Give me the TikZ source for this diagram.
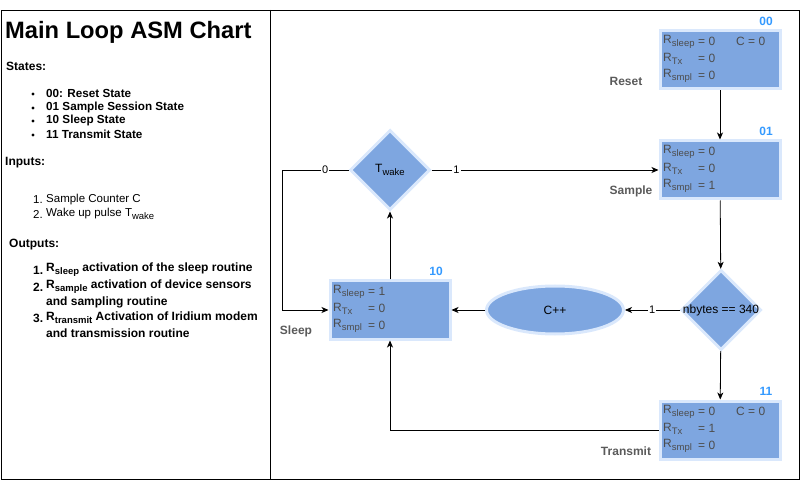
\documentclass[tikz,border=0pt]{standalone}
\usepackage{fontspec}
\setmainfont{Liberation Sans}
\usetikzlibrary{shapes.geometric,arrows.meta}
\definecolor{boxfill}{HTML}{7EA6E0}
\definecolor{boxline}{HTML}{DAE8FC}
\definecolor{codeblue}{HTML}{3399FF}
\definecolor{regtext}{HTML}{4D4D4D}
\definecolor{sidetext}{HTML}{5A5A5A}
\newcommand{\lowtxt}[1]{\raisebox{-0.27em}{\fontsize{9.5}{10}\selectfont #1}}

\tikzset{
  statebox/.style={rectangle, draw=boxline, fill=boxfill, line width=3pt,
    minimum width=120pt, minimum height=58pt, inner sep=0pt},
  decide/.style={diamond, draw=boxline, fill=boxfill, line width=3pt,
    minimum width=80pt, minimum height=80pt, inner sep=0pt},
  counter/.style={ellipse, draw=boxline, fill=boxfill, line width=3pt,
    minimum width=137pt, minimum height=48pt, inner sep=0pt},
  arr/.style={-{Stealth[length=7pt,width=6pt,inset=2pt]}, line width=0.8pt},
  elab/.style={fill=white, inner sep=1pt, font=\fontsize{11}{13}\selectfont},
  code/.style={font=\fontsize{12}{14}\selectfont\bfseries, text=codeblue},
  side/.style={font=\fontsize{12}{14}\selectfont\bfseries, text=sidetext},
  reg/.style={anchor=west, inner sep=0pt, font=\fontsize{12}{14}\selectfont, text=regtext},
  txt/.style={anchor=west, inner sep=0pt, font=\fontsize{11.5}{14}\selectfont},
  btxt/.style={txt, font=\fontsize{12}{14}\selectfont\bfseries}
}

\begin{document}
\begin{tikzpicture}[x=1pt,y=-1pt]
\useasboundingbox (0,0) rectangle (801,481);
% frame
\draw[line width=0.8pt] (1,10) rectangle (799,479);
\draw[line width=0.8pt] (270,10) -- (270,479);

% left panel
\node[txt, font=\fontsize{23.7}{28}\selectfont\bfseries] (title) at (5,32) {Main Loop ASM Chart};
\node[btxt] (states) at (6,66) {States:};
\foreach \y/\t [count=\i] in {93/00: Reset State, 107/01 Sample Session State,
                              120/10 Sleep State, 134/11 Transmit State} {
  \fill (33,\y+1) circle (1.7);
  \node[btxt, font=\fontsize{11.7}{14}\selectfont\bfseries] (st\i) at (46,\y) {\t};
}
\node[btxt] (inputs) at (5,163) {Inputs:};
\node[txt] (in1n) at (33,200) {1.};
\node[txt] (in1) at (46,200) {Sample Counter C};
\node[txt] (in2n) at (33,214) {2.};
\node[txt] (in2) at (46,214) {Wake up pulse T\lowtxt{wake}};
\node[btxt] (outputs) at (9,245) {Outputs:};
\node[btxt] (out1n) at (33,270) {1.};
\node[btxt] (out1) at (46,270) {R\lowtxt{sleep} activation of the sleep routine};
\node[btxt] (out2n) at (33,287) {2.};
\node[btxt] (out2) at (46,287) {R\lowtxt{sample} activation of device sensors};
\node[btxt] (out2b) at (46,302) {and sampling routine};
\node[btxt] (out3n) at (33,318) {3.};
\node[btxt] (out3) at (46,318) {R\lowtxt{transmit} Activation of Iridium modem};
\node[btxt] (out3b) at (46,333) {and transmission routine};

% states
\node[statebox] (s00) at (720,60) {};
\node[statebox] (s01) at (720,170) {};
\node[statebox] (s10) at (390,310) {};
\node[statebox] (s11) at (720,430) {};
\node[decide] (qwake) at (390,170) {};
\node[txt, anchor=center, font=\fontsize{12}{14}\selectfont] (twake) at (qwake) {T\lowtxt{wake}};
\node[decide] (qbytes) at (721,310) {};
\node[txt, anchor=center, font=\fontsize{12}{14}\selectfont] (nbytes) at (qbytes) {nbytes == 340};
\node[counter, font=\fontsize{12}{14}\selectfont] (inc) at (555,310) {C++};

% register values
\foreach \n/\bx/\by/\a/\b/\c in {00/720/60/0/0/0, 01/720/170/0/0/1,
                                 10/390/310/1/0/0, 11/720/430/0/1/0} {
  \node[reg] (r\n a) at (\bx-57,\by-18) {R\lowtxt{sleep}};
  \node[reg] (r\n b) at (\bx-57,\by-1) {R\lowtxt{Tx}};
  \node[reg] (r\n c) at (\bx-57,\by+16) {R\lowtxt{smpl}};
  \node[reg] (v\n a) at (\bx-22,\by-19) {= \a};
  \node[reg] (v\n b) at (\bx-22,\by-2) {= \b};
  \node[reg] (v\n c) at (\bx-22,\by+15) {= \c};
}
\node[reg] (c00) at (736,41) {C = 0};
\node[reg] (c11) at (736,411) {C = 0};

% state codes and names
\node[code] (k00) at (766,21) {00};
\node[code] (k01) at (766,131) {01};
\node[code] (k10) at (436,271) {10};
\node[code] (k11) at (766,391) {11};
\node[side] (nreset) at (626,81) {Reset};
\node[side] (nsample) at (631,191) {Sample};
\node[side] (nsleep) at (296,331) {Sleep};
\node[side] (ntransmit) at (626,451) {Transmit};

% connectors
\coordinate (loopx) at (282,0);
\draw[arr] (s00) -- (s01);
\draw[arr] (s01) -- (qbytes);
\draw[arr] (qbytes) -- (s11);
\draw[arr] (qbytes) -- node[elab] {1} (inc);
\draw[arr] (inc) -- (s10);
\draw[arr] (s10) -- (qwake);
\draw[arr] (qwake) -- node[elab, pos=0.11] {1} (s01);
\draw[arr] (qwake.west) -- node[elab, pos=0.35] {0} (qwake.west -| loopx) |- (s10.west);
\draw[arr] (s11.west) -| (s10.south);
\end{tikzpicture}
\end{document}
